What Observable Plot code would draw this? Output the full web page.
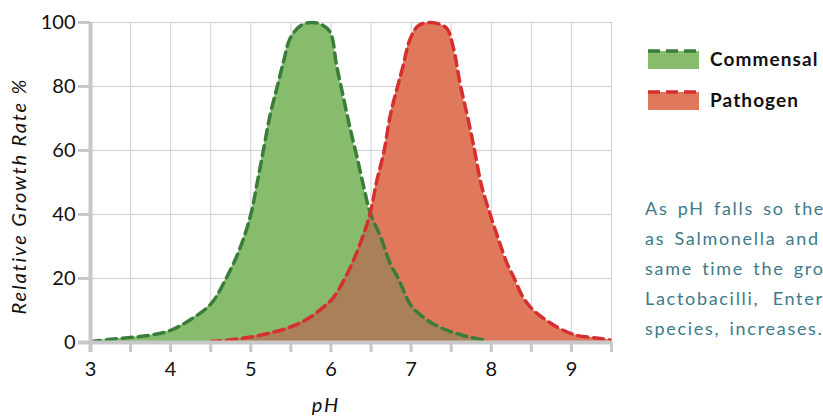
<!DOCTYPE html>
<html>
<head>
<meta charset="utf-8">
<script src="https://cdn.jsdelivr.net/npm/d3@7"></script>
<script src="https://cdn.jsdelivr.net/npm/@observablehq/plot@0.6"></script>
<style>
  html, body { margin: 0; padding: 0; background: #fff; }
  body { width: 823px; height: 417px; overflow: hidden; position: relative; font-family: Lato, "Open Sans", sans-serif; }
  #chart { position: absolute; left: 0; top: 0; }
  .lbl { position: absolute; font-style: italic; font-size: 20px; color: #111; letter-spacing: 1.9px; white-space: nowrap; }
  #ylab { left: 18px; top: 196px; transform: translate(-50%, -50%) rotate(-90deg); }
  #xlab { left: 326px; top: 404px; transform: translate(-50%, -50%); }
  .leg { position: absolute; left: 648px; display: flex; align-items: center; }
  .leg span { margin-left: 11px; font-weight: 700; font-size: 19px; letter-spacing: 1.1px; color: #111; }
  #note { position: absolute; left: 645px; top: 193px; color: #3e7a8a; font-size: 18px; line-height: 30px; letter-spacing: 1.7px; word-spacing: 3px; }
  #note div { white-space: nowrap; }
  #note div.wide { word-spacing: 7px; }
</style>
</head>
<body>
<div id="chart"></div>
<div class="lbl" id="ylab">Relative Growth Rate %</div>
<div class="lbl" id="xlab">pH</div>
<div class="leg" style="top:47px"><svg width="51" height="22"><rect x="0" y="3" width="51" height="18" fill="#86bc6c"></rect><line x1="0" x2="51" y1="3" y2="3" stroke="#3a7d3a" stroke-width="3.5" stroke-dasharray="12,6"></line></svg><span>Commensal</span></div>
<div class="leg" style="top:88px"><svg width="51" height="22"><rect x="0" y="3" width="51" height="18" fill="#e0785c"></rect><line x1="0" x2="51" y1="3" y2="3" stroke="#d62f2f" stroke-width="3.5" stroke-dasharray="12,6"></line></svg><span>Pathogen</span></div>
<div id="note">
  <div>As pH falls so the growth of pathogens such</div>
  <div>as Salmonella and E. coli is inhibited. At the</div>
  <div>same time the growth of commensals, such as</div>
  <div class="wide">Lactobacilli, Enterococci and Bifidobacterium</div>
  <div>species, increases.</div>
</div>
<script>
// ---- data ----
const commensalPH   = [3.0, 3.25, 3.5, 3.75, 4.0, 4.25, 4.5, 4.7, 4.87, 5.0, 5.08, 5.16, 5.24, 5.33, 5.41, 5.49, 5.62, 5.76, 5.88, 5.99, 6.07, 6.16, 6.24, 6.33, 6.41, 6.49, 6.62, 6.74, 6.84, 6.91, 7.0, 7.2, 7.4, 7.65, 7.9];
const commensalRate = [0.3, 1.0, 1.6, 2.3, 3.8, 7.2, 12, 20.4, 29.8, 40, 50, 60.5, 71, 80, 88, 95, 99, 100, 99.4, 97, 86.6, 76, 66.8, 57.4, 48.5, 40.5, 33, 24.6, 20, 16, 11.5, 7, 4.3, 2.2, 0.8];
const pathogenPH    = [4.5, 5.0, 5.49, 5.74, 5.95, 6.03, 6.16, 6.28, 6.41, 6.49, 6.57, 6.66, 6.74, 6.82, 6.89, 6.99, 7.09, 7.24, 7.35, 7.45, 7.53, 7.61, 7.70, 7.78, 7.86, 7.9, 8.0, 8.1, 8.2, 8.28, 8.40, 8.53, 8.69, 8.86, 9.07, 9.28, 9.48];
const pathogenRate  = [0.3, 1.7, 4.8, 7.9, 12, 14, 19.4, 25.6, 34, 40.5, 50.3, 59.5, 71, 79, 85.5, 95, 99, 100, 99.5, 98, 91.8, 81, 71, 61.5, 51, 47, 39, 31.5, 24.5, 20.4, 14, 10, 6.9, 4.3, 2.2, 1.5, 0.8];
const xTicks = [3, 3.5, 4, 4.5, 5, 5.5, 6, 6.5, 7, 7.5, 8, 8.5, 9, 9.5];
const xTickLabels = ["3", "", "4", "", "5", "", "6", "", "7", "", "8", "", "9", ""];
const yTicks = [0, 20, 40, 60, 80, 100];

const commensal = commensalPH.map((x, i) => ({x, y: commensalRate[i]}));
const pathogen = pathogenPH.map((x, i) => ({x, y: pathogenRate[i]}));

const green = "#86bc6c", greenLine = "#3a7d3a";
const red = "#e0785c", redLine = "#d62f2f";
const brown = "#a98058";
const axisGray = "#c8c8c8", gridGray = "#d0d0d0";
const curve = "catmull-rom";

const svg = Plot.plot({
  width: 823,
  height: 417,
  marginLeft: 90,
  marginRight: 212,
  marginTop: 22,
  marginBottom: 75,
  x: {domain: [3, 9.5]},
  y: {domain: [0, 100]},
  style: {fontFamily: "Lato, 'Open Sans', sans-serif", fontSize: "20px", color: "#111", background: "transparent"},
  marks: [
    Plot.ruleX(xTicks, {stroke: gridGray, strokeWidth: 1}),
    Plot.ruleY(yTicks, {stroke: gridGray, strokeWidth: 1}),
    Plot.areaY(commensal, {x: "x", y: "y", fill: green, curve}),
    Plot.areaY(pathogen, {x: "x", y: "y", fill: red, curve}),
    Plot.lineY(commensal, {x: "x", y: "y", stroke: greenLine, strokeWidth: 3.5, strokeDasharray: "10,6", curve}),
    Plot.lineY(pathogen, {x: "x", y: "y", stroke: redLine, strokeWidth: 3.5, strokeDasharray: "10,6", curve}),
    Plot.ruleX([3], {stroke: axisGray, strokeWidth: 4, insetBottom: -10}),
    Plot.ruleY([0], {stroke: axisGray, strokeWidth: 4, insetLeft: -12}),
    Plot.axisX({ticks: xTicks, tickSize: 10, tickPadding: 9, stroke: axisGray, strokeWidth: 3, tickFormat: d => xTickLabels[xTicks.indexOf(d)], label: null, fontSize: 20}),
    Plot.axisY({ticks: yTicks, tickSize: 12, tickPadding: 3, stroke: axisGray, strokeWidth: 3, label: null, fontSize: 20})
  ]
});

// overlap: commensal area clipped by pathogen area, in brown
const areas = svg.querySelectorAll('g[aria-label="area"]');
if (areas.length >= 2) {
  const greenPath = areas[0].querySelector("path");
  const redPath = areas[1].querySelector("path");
  const ns = "http://www.w3.org/2000/svg";
  const defs = document.createElementNS(ns, "defs");
  const clip = document.createElementNS(ns, "clipPath");
  clip.setAttribute("id", "pathogen-clip");
  const cp = document.createElementNS(ns, "path");
  cp.setAttribute("d", redPath.getAttribute("d"));
  clip.appendChild(cp);
  defs.appendChild(clip);
  svg.insertBefore(defs, svg.firstChild);
  const ov = greenPath.cloneNode(true);
  ov.setAttribute("fill", brown);
  ov.setAttribute("clip-path", "url(#pathogen-clip)");
  const g = document.createElementNS(ns, "g");
  g.appendChild(ov);
  areas[1].after(g);
}
document.getElementById("chart").appendChild(svg);
</script>
</body>
</html>
